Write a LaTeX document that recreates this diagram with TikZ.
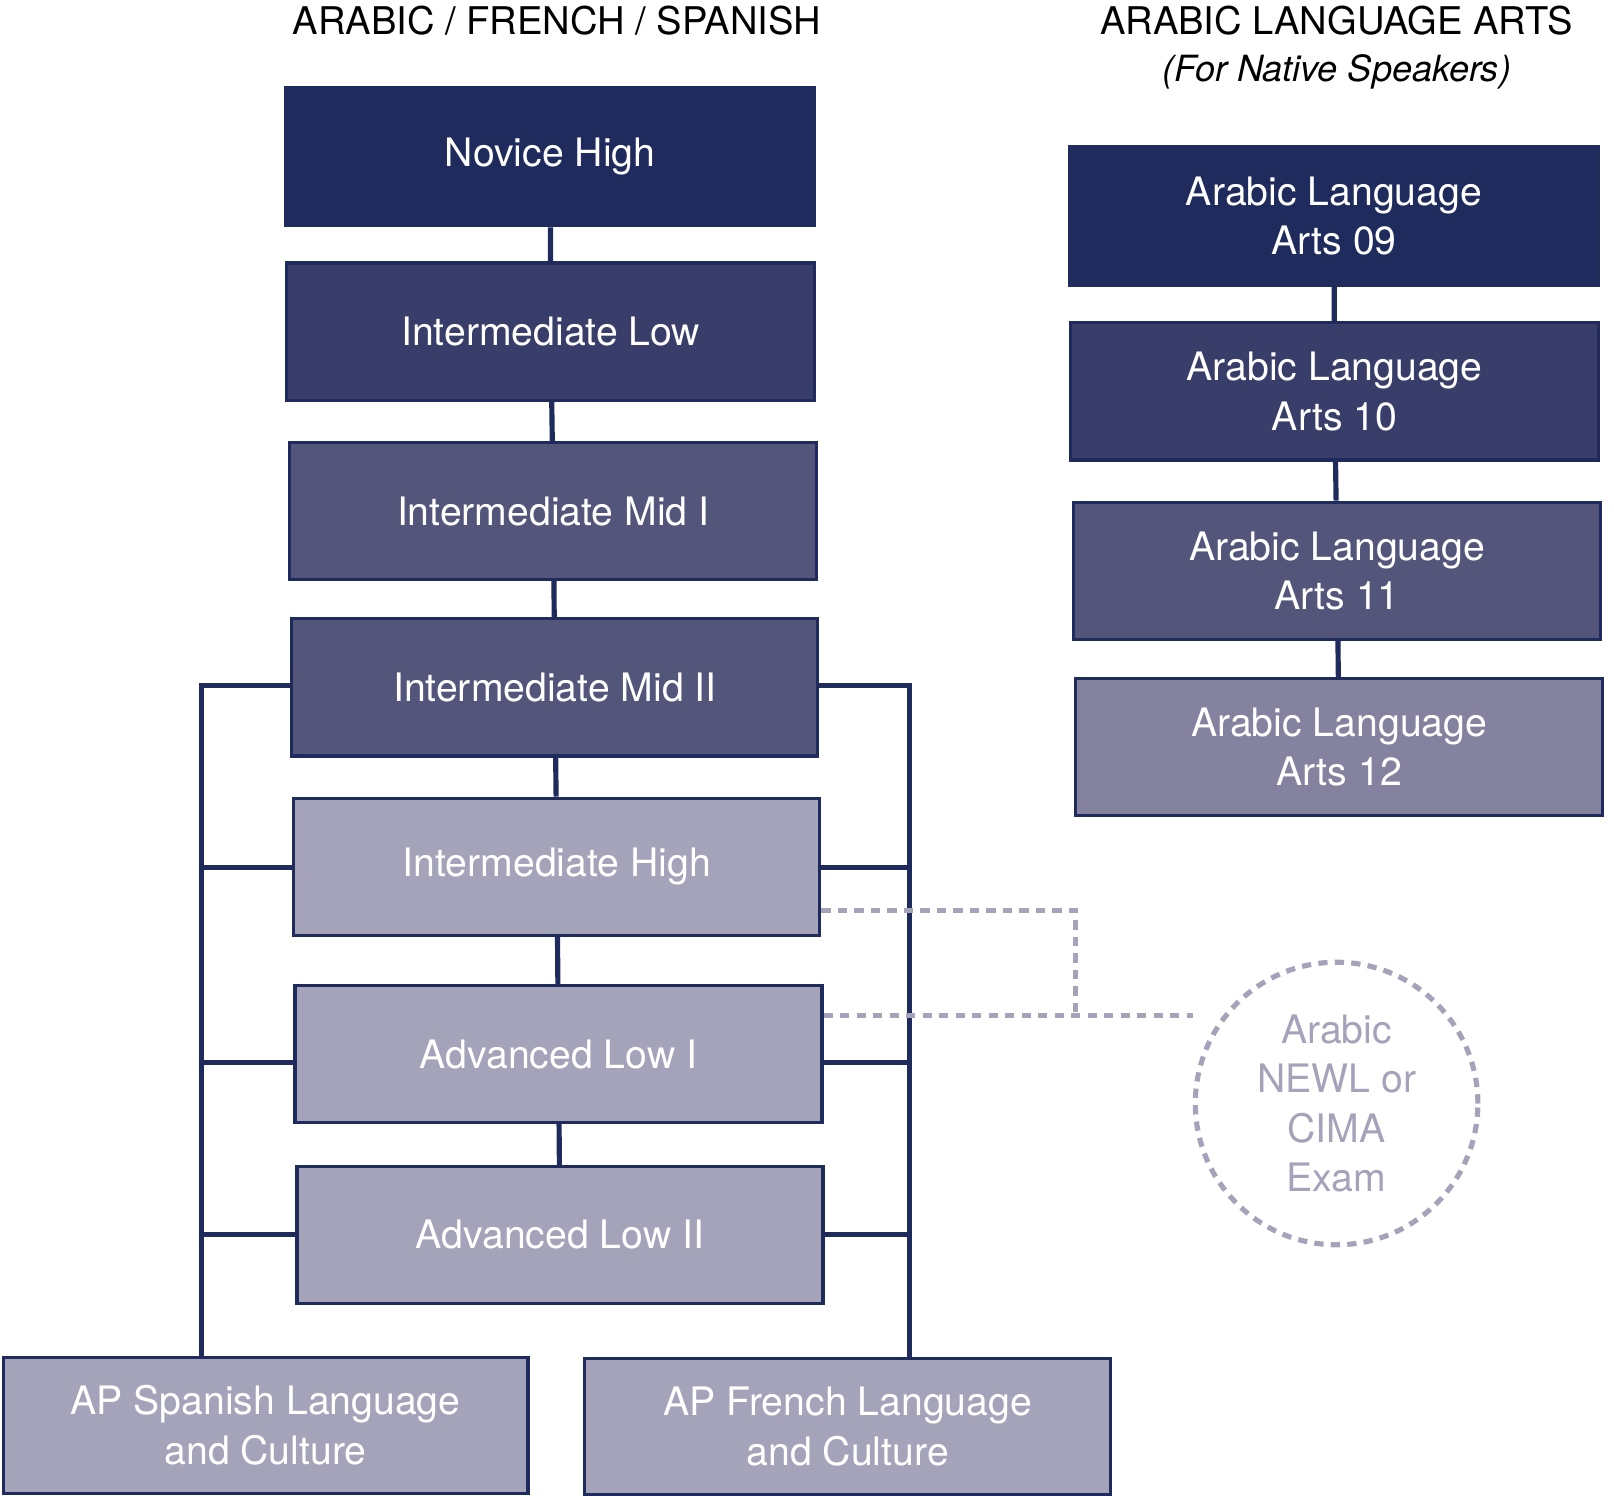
\documentclass[tikz,border=0pt]{standalone}
\usepackage{fontspec}
\setmainfont{TeX Gyre Heros}
\begin{document}
\begin{tikzpicture}[x=1pt,y=-1pt,
  bx/.style={draw=c1,line width=3pt,text=white,font=\fontsize{38}{48}\selectfont,align=center,inner sep=0pt},
  ln/.style={draw=c1,line width=5pt},
  dl/.style={draw=cl,line width=5pt,dash pattern=on 9pt off 7pt},
  hd/.style={font=\fontsize{37}{44}\selectfont,inner sep=0pt}]
\definecolor{c1}{HTML}{1F2B5C}
\definecolor{c2}{HTML}{383E69}
\definecolor{c3}{HTML}{53557A}
\definecolor{c4}{HTML}{84829E}
\definecolor{cl}{HTML}{A4A3BA}
\useasboundingbox (0,0) rectangle (1565,1450);
\newcommand{\bxn}[7]{\node[bx,fill=#6,minimum width={#4-#2},minimum height={#5-#3}] (#1) at ({(#2+#4)/2},{(#3+#5)/2}) {#7};}
\node[hd] (h1) at (540,20) {ARABIC / FRENCH / SPANISH};
\node[hd] (h2) at (1296,20) {ARABIC LANGUAGE ARTS};
\node[hd,font=\fontsize{35}{42}\selectfont\itshape] (h3) at (1296,70) {(For Native Speakers)};
\bxn{nh}{277}{85}{790}{219}{c1}{Novice High}
\bxn{il}{278}{255}{790}{388}{c2}{Intermediate Low}
\bxn{im1}{281}{429}{792}{562}{c3}{Intermediate Mid I}
\bxn{im2}{283}{600}{793}{733}{c3}{Intermediate Mid II}
\bxn{ih}{285}{774}{795}{907}{cl}{Intermediate High}
\bxn{al1}{286}{956}{797}{1088}{cl}{Advanced Low I}
\bxn{al2}{288}{1131}{798}{1264}{cl}{Advanced Low II}
\bxn{aps}{3}{1316}{512}{1448}{cl}{AP Spanish Language\\and Culture}
\bxn{apf}{567}{1317}{1077}{1449}{cl}{AP French Language\\and Culture}
\bxn{a9}{1037}{142}{1550}{277}{c1}{Arabic Language\\Arts 09}
\bxn{a10}{1038}{313}{1550}{446}{c2}{Arabic Language\\Arts 10}
\bxn{a11}{1041}{487}{1552}{620}{c3}{Arabic Language\\Arts 11}
\bxn{a12}{1043}{658}{1554}{791}{c4}{Arabic Language\\Arts 12}
\node[circle,dl,minimum size=274pt,text=cl,font=\fontsize{38}{48}\selectfont,align=center] (ex) at (1296,1070) {Arabic\\NEWL or\\CIMA\\Exam};
\foreach \a/\b in {nh/il,il/im1,im1/im2,im2/ih,ih/al1,al1/al2} \draw[ln] (\a) -- (\b);
\foreach \a/\b in {a9/a10,a10/a11,a11/a12} \draw[ln] (\a) -- (\b);
\coordinate (lt) at (195,665); \coordinate (rt) at (882,665);
\draw[ln] (im2.west |- lt) -- (lt) -- (195,1316);
\draw[ln] (im2.east |- rt) -- (rt) -- (882,1317);
\foreach \n/\y in {ih/841,al1/1030,al2/1197}{
  \draw[ln] (\n.west |- 0,\y) -- (195,\y);
  \draw[ln] (\n.east |- 0,\y) -- (882,\y);}
\coordinate (dk) at (1043,883);
\draw[dl] (ih.east |- dk) -- (dk) -- (1043,985);
\draw[dl] (al1.east |- 0,985) -- (ex.west |- 0,985);
\end{tikzpicture}
\end{document}
